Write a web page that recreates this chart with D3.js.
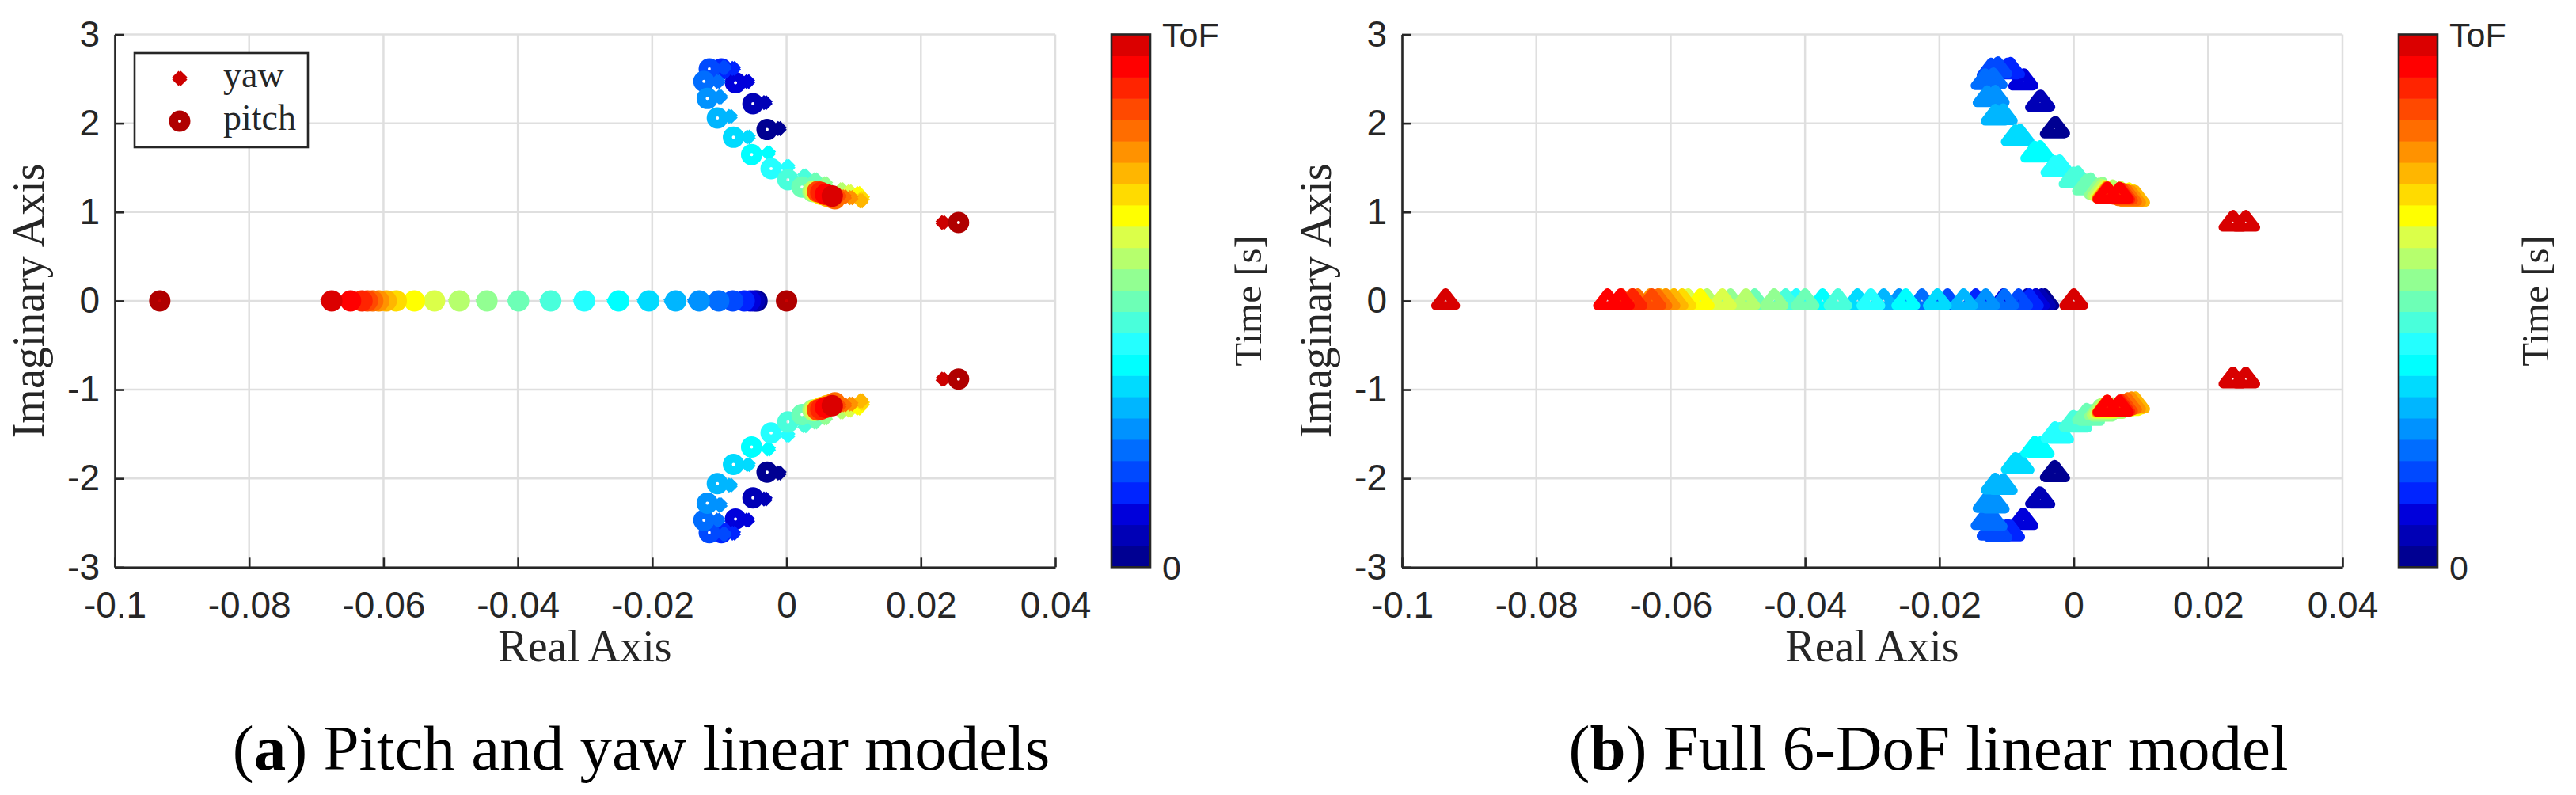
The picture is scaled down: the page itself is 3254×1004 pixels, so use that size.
<!DOCTYPE html>
<html>
<head>
<meta charset="utf-8">
<script src="https://cdn.jsdelivr.net/npm/d3@7"></script>
<style>
  body { margin: 0; background: #fff; }
  .tick text { font-family: 'Liberation Sans', Arial, sans-serif; font-size: 46px; fill: #262626; }
  .lbl { font-family: 'Liberation Serif', 'Times New Roman', serif; fill: #262626; }
  .cap { font-family: 'Liberation Serif', 'Times New Roman', serif; font-size: 81px; fill: #000; }
</style>
</head>
<body>
<svg id="fig" width="3254" height="1004"></svg>
<script>
// MATLAB jet(25), time 0 (first) to ToF (last)
const jet25 = ['#000092','#0000B6','#0000DB','#0024FF','#0049FF','#006DFF','#0092FF','#00B6FF','#00DBFF','#00FFFF',
               '#24FFFF','#49FFDB','#6DFFB6','#92FF92','#B6FF6D','#DBFF49','#FFFF00','#FFDB00','#FFB600','#FF9200',
               '#FF6D00','#FF4900','#FF2400','#FF0000','#DB0000'];

const xTicks = [-0.1, -0.08, -0.06, -0.04, -0.02, 0, 0.02, 0.04];
const yTicks = [-3, -2, -1, 0, 1, 2, 3];

// (a) pitch and yaw models, one entry per time level (upper branch, the lower one is its conjugate)
const pitchBranchRe = [-0.0029,-0.0050,-0.0076,-0.0097,-0.0115,-0.0123,-0.0118,-0.0103,-0.0079,-0.0052,-0.0023,0.0002,0.0023,
                       0.0039,0.0040,0.0043,0.0046,0.0052,0.0060,0.0068,0.0072,0.0046,0.0051,0.0058,0.0068];
const pitchBranchIm = [1.929,2.219,2.457,2.611,2.611,2.472,2.279,2.059,1.842,1.646,1.488,1.364,1.281,
                       1.230,1.236,1.230,1.221,1.200,1.180,1.162,1.150,1.230,1.221,1.200,1.180];
const yawBranchRe = [-0.0011,-0.0032,-0.0058,-0.0079,-0.0093,-0.0102,-0.0099,-0.0084,-0.0057,-0.0027,0.0002,0.0027,0.0043,
                     0.0058,0.0082,0.0094,0.0107,0.0113,0.0111,0.0096,0.0086,0.0078,0.0073,0.0070,0.0068];
const yawBranchIm = [1.940,2.232,2.469,2.618,2.627,2.469,2.297,2.077,1.845,1.667,1.512,1.408,1.364,
                     1.319,1.251,1.230,1.209,1.156,1.126,1.162,1.171,1.180,1.185,1.185,1.185];
const pitchRealRe = [-0.0044,-0.0048,-0.0054,-0.0063,-0.0080,-0.0101,-0.0130,-0.0165,-0.0205,-0.0250,-0.0301,-0.0351,-0.0399,
                     -0.0446,-0.0487,-0.0524,-0.0554,-0.0581,-0.0596,-0.0607,-0.0616,-0.0624,-0.0632,-0.0649,-0.0677];
const yawRealRe = [-0.0050,-0.0054,-0.0060,-0.0069,-0.0086,-0.0107,-0.0137,-0.0172,-0.0212,-0.0257,-0.0307,-0.0357,-0.0405,
                   -0.0452,-0.0493,-0.0530,-0.0560,-0.0587,-0.0602,-0.0613,-0.0622,-0.0630,-0.0638,-0.0655,-0.0683];
const pitchFixed = [[-0.0933, 0], [0, 0], [0.0256, 0.882], [0.0256, -0.882]];
const yawFixed = [[-0.0933, 0], [0, 0], [0.0233, 0.882], [0.0233, -0.882]];

// (b) full 6-DoF model
const fullARe = [-0.0029,-0.0051,-0.0076,-0.0099,-0.0123,-0.0132,-0.0129,-0.0117,-0.0087,-0.0058,-0.0028,-0.0001,
                 0.0019,0.0037,0.0041,0.0045,0.0048,0.0050,0.0048,0.0049,0.0049,0.0049,0.0050,0.0050];
const fullAIm = [1.934,2.232,2.472,2.597,2.597,2.478,2.285,2.077,1.845,1.661,1.498,1.370,
                 1.290,1.245,1.233,1.224,1.215,1.209,1.209,1.206,1.203,1.200,1.200,1.200];
const fullBRe = [-0.0027,-0.0049,-0.0074,-0.0094,-0.0113,-0.0120,-0.0117,-0.0105,-0.0080,-0.0050,-0.0021,0.0006,
                 0.0025,0.0043,0.0058,0.0070,0.0082,0.0088,0.0092,0.0086,0.0080,0.0074,0.0070,0.0068];
const fullBIm = [1.940,2.237,2.478,2.606,2.612,2.487,2.291,2.083,1.851,1.667,1.507,1.379,
                 1.305,1.257,1.227,1.209,1.192,1.174,1.162,1.162,1.171,1.186,1.194,1.200];
const fullRealXRe = [-0.0056,-0.0070,-0.0105,-0.0146,-0.0188,-0.0226,-0.0260,-0.0283,-0.0322,-0.0374,-0.0413,-0.0429,
                     -0.0475,-0.0511,-0.0546,-0.0574,-0.0596,-0.0608,-0.0616,-0.0631,-0.0649,-0.0658,-0.0673,-0.0694];
const fullRealYRe = [-0.0043,-0.0048,-0.0057,-0.0066,-0.0082,-0.0103,-0.0131,-0.0164,-0.0203,-0.0250,-0.0302,-0.0351,
                     -0.0400,-0.0446,-0.0488,-0.0523,-0.0556,-0.0583,-0.0595,-0.0607,-0.0619,-0.0628,-0.0656,-0.0675];
const fullFixed = [[-0.0935, 0], [0, 0], [0.0237, 0.882], [0.0237, -0.882], [0.0256, 0.882], [0.0256, -0.882]];

const legendItems = [{ name: 'yaw', shape: 'x' }, { name: 'pitch', shape: 'o' }];

// ---------------------------------------------------------------
const svg = d3.select('#fig');
const axisColor = '#262626';
const gridColor = '#dfdfdf';
const lw = 11.5;            // marker line width
// final-time colour of the poles that do not move, as rendered per marker type
const endColor = { x: '#CC0000', o: '#B00000', '^': '#D80000' };

const plotTop = 43.5, plotBottom = 716.3, plotW = 1188;

// marker drawing
const xPath = 'M-5.5,-5.5L5.5,5.5M-5.5,5.5L5.5,-5.5';
const triPath = 'M0,-10.4L12.75,6.1L-12.75,6.1Z';

function drawMarker(g, shape, px, py, color) {
  if (shape === 'o') {
    g.append('circle').attr('cx', px).attr('cy', py).attr('r', 7.75)
      .attr('fill', 'none').attr('stroke', color).attr('stroke-width', lw);
  } else if (shape === 'x') {
    g.append('path').attr('d', xPath).attr('transform', `translate(${px},${py})`)
      .attr('fill', 'none').attr('stroke', color).attr('stroke-width', lw);
  } else {
    g.append('path').attr('d', triPath).attr('transform', `translate(${px},${py})`)
      .attr('fill', 'none').attr('stroke', color).attr('stroke-width', 11)
      .attr('stroke-linejoin', 'round');
  }
}

// build the list of poles for each panel, ordered by time level
function branchMarks(re, im, shape) {
  const out = [];
  re.forEach((r, k) => {
    out.push({ re: r, im: im[k], k, shape });
    out.push({ re: r, im: -im[k], k, shape });
  });
  return out;
}
function realMarks(re, shape) {
  return re.map((r, k) => ({ re: r, im: 0, k, shape }));
}
function fixedMarks(list, shape) {
  return list.map(p => ({ re: p[0], im: p[1], k: 24, shape, fixed: 1 }));
}

function orderMarks(groups) {
  // groups listed in draw order within each time level
  const all = [];
  groups.forEach((grp, gi) => grp.forEach(m => all.push(Object.assign({ g: gi, fixed: 0 }, m))));
  all.sort((a, b) => (a.fixed - b.fixed) || (a.k - b.k) || (a.g - b.g));
  return all;
}

const panels = [
  {
    x0: 145,
    marks: orderMarks([
      realMarks(yawRealRe, 'x'), branchMarks(yawBranchRe, yawBranchIm, 'x'),
      realMarks(pitchRealRe, 'o'), branchMarks(pitchBranchRe, pitchBranchIm, 'o'),
      fixedMarks(yawFixed, 'x'), fixedMarks(pitchFixed, 'o')
    ]),
    legend: true,
    caption: ['a', ' Pitch and yaw linear models']
  },
  {
    x0: 1771,
    marks: orderMarks([
      branchMarks(fullBRe, fullBIm, '^'), branchMarks(fullARe, fullAIm, '^'),
      realMarks(fullRealXRe, '^'), realMarks(fullRealYRe, '^'),
      fixedMarks(fullFixed, '^')
    ]),
    legend: false,
    caption: ['b', ' Full 6-DoF linear model']
  }
];

panels.forEach(p => {
  const xScale = d3.scaleLinear().domain([-0.1, 0.04]).range([p.x0, p.x0 + plotW]);
  const yScale = d3.scaleLinear().domain([-3, 3]).range([plotBottom, plotTop]);
  const g = svg.append('g');

  // grid
  g.append('g').selectAll('line').data(xTicks).join('line')
    .attr('x1', d => xScale(d)).attr('x2', d => xScale(d))
    .attr('y1', plotTop).attr('y2', plotBottom)
    .attr('stroke', gridColor).attr('stroke-width', 2.5);
  g.append('g').selectAll('line').data(yTicks).join('line')
    .attr('x1', p.x0).attr('x2', p.x0 + plotW)
    .attr('y1', d => yScale(d)).attr('y2', d => yScale(d))
    .attr('stroke', gridColor).attr('stroke-width', 2.5);

  // markers
  const mg = g.append('g');
  p.marks.forEach(m => drawMarker(mg, m.shape, xScale(m.re), yScale(m.im),
    m.fixed ? endColor[m.shape] : jet25[m.k]));

  // axes
  const xAxis = d3.axisBottom(xScale).tickValues(xTicks).tickFormat(d => String(+d.toFixed(2)))
    .tickSizeInner(-12).tickSizeOuter(0).tickPadding(31);
  const yAxis = d3.axisLeft(yScale).tickValues(yTicks).tickFormat(d => String(d))
    .tickSizeInner(-12).tickSizeOuter(0).tickPadding(19);
  const xg = g.append('g').attr('transform', `translate(0,${plotBottom})`).call(xAxis);
  const yg = g.append('g').attr('transform', `translate(${p.x0},0)`).call(yAxis);
  [xg, yg].forEach(a => {
    a.attr('font-family', null).attr('font-size', null);
    a.selectAll('path.domain').attr('stroke', axisColor).attr('stroke-width', 2.6);
    a.selectAll('.tick line').attr('stroke', axisColor).attr('stroke-width', 2.6);
  });

  // axis labels
  g.append('text').attr('class', 'lbl').attr('font-size', 56)
    .attr('x', xScale(-0.03)).attr('y', 835).attr('text-anchor', 'middle').text('Real Axis');
  g.append('text').attr('class', 'lbl').attr('font-size', 56)
    .attr('transform', `translate(${p.x0 - 90},${(plotTop + plotBottom) / 2}) rotate(-90)`)
    .attr('text-anchor', 'middle').text('Imaginary Axis');

  // colorbar
  const cbX = p.x0 + 1259, cbW = 49;
  const cScale = d3.scaleLinear().domain([0, 25]).range([plotBottom, plotTop]);
  g.append('g').selectAll('rect').data(jet25).join('rect')
    .attr('x', cbX).attr('width', cbW)
    .attr('y', (d, i) => cScale(i + 1)).attr('height', (d, i) => cScale(i) - cScale(i + 1) + 0.6)
    .attr('fill', d => d);
  g.append('rect').attr('x', cbX).attr('y', plotTop).attr('width', cbW).attr('height', plotBottom - plotTop)
    .attr('fill', 'none').attr('stroke', axisColor).attr('stroke-width', 2.6);
  g.append('text').attr('x', cbX + cbW + 15).attr('y', plotTop).attr('dy', '0.36em')
    .attr('font-family', "'Liberation Sans', Arial, sans-serif").attr('font-size', 43).attr('fill', axisColor).text('ToF');
  g.append('text').attr('x', cbX + cbW + 15).attr('y', plotBottom).attr('dy', '0.36em')
    .attr('font-family', "'Liberation Sans', Arial, sans-serif").attr('font-size', 43).attr('fill', axisColor).text('0');
  g.append('text').attr('class', 'lbl').attr('font-size', 49)
    .attr('transform', `translate(${cbX + 189},${(plotTop + plotBottom) / 2}) rotate(-90)`)
    .attr('text-anchor', 'middle').text('Time [s]');

  // legend
  if (p.legend) {
    const lg = g.append('g');
    lg.append('rect').attr('x', p.x0 + 25).attr('y', 67).attr('width', 219).attr('height', 119)
      .attr('fill', '#fff').attr('stroke', axisColor).attr('stroke-width', 2.6);
    legendItems.forEach((it, i) => {
      const cy = 99 + i * 54;
      drawMarker(lg, it.shape, p.x0 + 82, cy, endColor[it.shape]);
      lg.append('text').attr('class', 'lbl').attr('font-size', 46).attr('fill', '#000')
        .attr('x', p.x0 + 137).attr('y', cy + 11).text(it.name);
    });
  }

  // caption
  const cap = svg.append('text').attr('class', 'cap').attr('x', p.x0 + 665).attr('y', 972).attr('text-anchor', 'middle');
  cap.append('tspan').text('(');
  cap.append('tspan').attr('font-weight', 'bold').text(p.caption[0]);
  cap.append('tspan').text(')' + p.caption[1]);
});
</script>
</body>
</html>
